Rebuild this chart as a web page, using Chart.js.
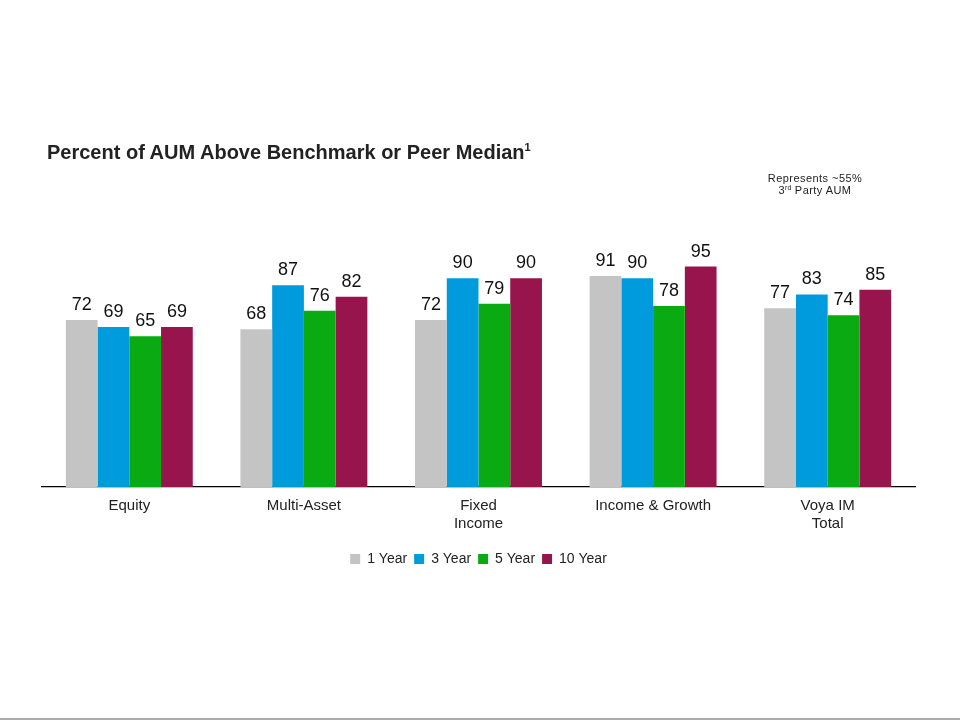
<!DOCTYPE html>
<html>
<head>
<meta charset="utf-8">
<script src="https://cdn.jsdelivr.net/npm/chart.js@4"></script>
<style>
  html, body { margin: 0; padding: 0; background: #fff; }
  #wrap { position: relative; width: 960px; height: 720px; overflow: hidden; font-family: "Liberation Sans", Arial, sans-serif; }
  #myChart { position: absolute; left: 0; top: 0; }
  .title { position: absolute; left: 47px; top: 141px; font-size: 20px; font-weight: bold; color: #222; }
  .title sup { font-size: 11px; vertical-align: 8px; line-height: 0; }
  .note { position: absolute; left: 745px; top: 172px; width: 140px; text-align: center; font-size: 11px; line-height: 12px; letter-spacing: 0.45px; color: #222; }
  .note sup { font-size: 7px; vertical-align: 4px; line-height: 0; letter-spacing: 0; }
  .bottomline { position: absolute; left: 0; top: 718px; width: 960px; height: 2px; background: #aaa; }
</style>
</head>
<body>
<div id="wrap">
  <canvas id="myChart" width="960" height="720"></canvas>
  <div class="title">Percent of AUM Above Benchmark or Peer Median<sup>1</sup></div>
  <div class="note">Represents ~55%<br>3<sup>rd</sup> Party AUM</div>
  <div class="bottomline"></div>
</div>
<script>
const categories = ['Equity', 'Multi-Asset', ['Fixed', 'Income'], 'Income & Growth', ['Voya IM', 'Total']];
const seriesNames = ['1 Year', '3 Year', '5 Year', '10 Year'];
const oneYear = [72, 68, 72, 91, 77];
const threeYear = [69, 87, 90, 90, 83];
const fiveYear = [65, 76, 79, 78, 74];
const tenYear = [69, 82, 90, 95, 85];
const colors = ['#c4c4c4', '#009bdd', '#0aab12', '#98144d'];

const ctx = document.getElementById('myChart').getContext('2d');

// value labels above each bar
const valueLabels = {
  id: 'valueLabels',
  afterDatasetsDraw(chart) {
    const c = chart.ctx;
    c.save();
    c.font = '18px "Liberation Sans", Arial, sans-serif';
    c.fillStyle = '#111';
    c.textAlign = 'center';
    c.textBaseline = 'bottom';
    chart.data.datasets.forEach((ds, i) => {
      chart.getDatasetMeta(i).data.forEach((bar, j) => {
        c.fillText(ds.data[j], bar.x, bar.y - 6);
      });
    });
    c.restore();
  }
};

const seriesData = [oneYear, threeYear, fiveYear, tenYear];

const myChart = new Chart(ctx, {
  type: 'bar',
  data: {
    labels: categories,
    datasets: seriesNames.map((name, i) => ({
      label: name,
      data: seriesData[i],
      backgroundColor: colors[i],
      borderWidth: 0,
      barPercentage: 1,
      categoryPercentage: 0.727
    }))
  },
  options: {
    responsive: false,
    animation: false,
    layout: { padding: { left: 42, right: 45, top: 255, bottom: 144 } },
    plugins: {
      legend: {
        position: 'bottom',
        labels: {
          boxWidth: 10,
          boxHeight: 10,
          padding: 7,
          color: '#222',
          font: { family: '"Liberation Sans", Arial, sans-serif', size: 14 }
        }
      },
      tooltip: { enabled: false }
    },
    scales: {
      x: {
        grid: { display: false },
        border: { display: true, color: '#000', width: 1.3 },
        ticks: {
          color: '#222',
          padding: 2,
          font: { family: '"Liberation Sans", Arial, sans-serif', size: 15, lineHeight: 1.2 }
        },
        // keep some room between the category labels and the legend
        afterFit: (scale) => { scale.height += 10; }
      },
      y: {
        display: false,
        min: 0,
        max: 100
      }
    }
  },
  plugins: [valueLabels]
});
</script>
</body>
</html>
